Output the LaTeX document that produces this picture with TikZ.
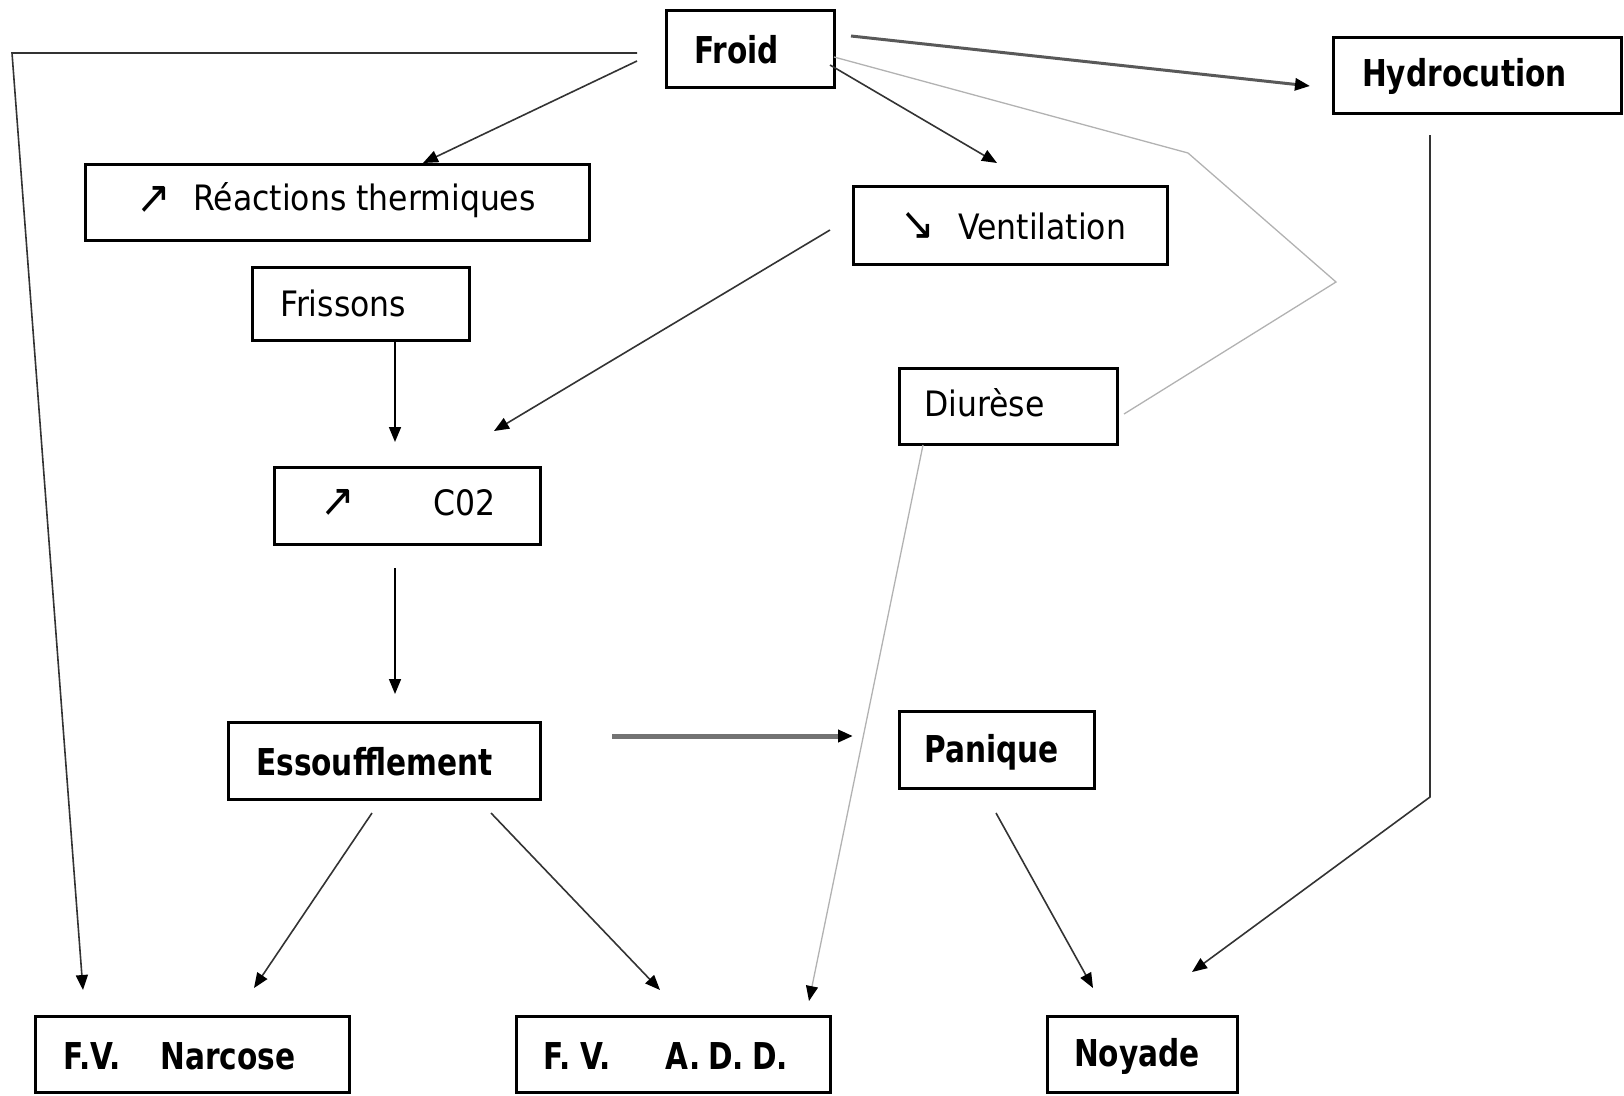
\documentclass[tikz,border=0pt]{standalone}
\usepackage{fontspec}
\setmainfont{DejaVu Sans}[FakeStretch=0.9]
\newfontfamily\boldf{DejaVu Sans}[FakeStretch=0.8]
\usetikzlibrary{arrows.meta,calc}
\tikzset{
  box/.style={draw, line width=3pt, inner sep=0pt},
  reg/.style={inner sep=0pt, anchor=west, font=\fontsize{35}{40}\selectfont},
  icon/.style={inner sep=0pt, anchor=west, font=\fontsize{46}{48}\selectfont},
  bld/.style={inner sep=0pt, anchor=west, font=\boldf\bfseries\fontsize{37}{42}\selectfont},
  tip/.style={-{Triangle[length=15pt,width=12pt,color=black]}},
  arr/.style={tip, draw=black!80, line width=1.6pt},
  arrthick/.style={tip, draw=black!65, line width=3pt},
  arrgray/.style={tip, draw=black!55, line width=5pt},
  light/.style={draw=black!30, line width=1.3pt},
}
\begin{document}
\begin{tikzpicture}[x=1pt,y=-1pt]
\useasboundingbox (0,0) rectangle (1624,1095);
% boxes
\node[box, minimum width=168, minimum height=77] (froid) at (750,48.5) {};
\node[box, minimum width=288, minimum height=76] (hydro) at (1477,75) {};
\node[box, minimum width=504, minimum height=76] (reac) at (337,202) {};
\node[box, minimum width=314, minimum height=78] (vent) at (1010,225) {};
\node[box, minimum width=217, minimum height=73] (friss) at (360.5,303.5) {};
\node[box, minimum width=218, minimum height=76] (diur) at (1008,406) {};
\node[box, minimum width=266, minimum height=77] (co2) at (407,505.5) {};
\node[box, minimum width=312, minimum height=77] (essou) at (384,760.5) {};
\node[box, minimum width=195, minimum height=77] (pani) at (996.5,749.5) {};
\node[box, minimum width=314, minimum height=76] (fvn) at (192,1054) {};
\node[box, minimum width=314, minimum height=76] (fva) at (673,1054) {};
\node[box, minimum width=190, minimum height=76] (noy) at (1142,1054) {};
% labels
\node[bld] (froidT) at (694,50) {Froid};
\node[bld] (hydroT) at (1362,76) {Hydrocution};
\node[icon] (reacI) at (136,200) {↗};
\node[reg] (reacT) at (193,200) {Réactions thermiques};
\node[icon] (ventI) at (900,226) {↘};
\node[reg] (ventT) at (958,226) {Ventilation};
\node[reg] (frissT) at (280,303) {Frissons};
\node[reg] (diurT) at (924,403) {Diurèse};
\node[icon] (co2I) at (320,503) {↗};
\node[reg] (co2T) at (433,503) {C02};
\node[bld] (essouT) at (256,762) {Essoufflement};
\node[bld] (paniT) at (924,752) {Panique};
\node[bld] (fvnT) at (63,1056) {F.V.\hspace{40pt}Narcose};
\node[bld] (fvaT) at (543,1056) {F.\hspace{10pt}V.\hspace{55pt}A.\hspace{8pt}D.\hspace{8pt}D.};
\node[bld] (noyT) at (1074,1056) {Noyade};
% connector end points
\coordinate (f1) at (637,53);
\coordinate (f1c) at (12,53);
\coordinate (n1) at (83,990);
\coordinate (f2) at (637,61);
\coordinate (r2) at (423,163);
\coordinate (f3) at (851,36);
\coordinate (h3) at (1310,86);
\coordinate (f4) at (830,65);
\coordinate (v4) at (997,163);
\coordinate (f5) at (834,57);
\coordinate (f5a) at (1188,153);
\coordinate (f5b) at (1336,282);
\coordinate (d5) at (1124,414);
\coordinate (v6) at (830,230);
\coordinate (c6) at (494,431);
\coordinate (fr7) at (395,340);
\coordinate (c7) at (395,442);
\coordinate (c8) at (395,568);
\coordinate (e8) at (395,694);
\coordinate (e9) at (612,736);
\coordinate (p9) at (853,736);
\coordinate (d10) at (923,445);
\coordinate (a10) at (809,1001);
\coordinate (e11) at (372,813);
\coordinate (n11) at (254,988);
\coordinate (e12) at (491,813);
\coordinate (a12) at (660,990);
\coordinate (p13) at (996,813);
\coordinate (y13) at (1093,988);
\coordinate (h14) at (1430,135);
\coordinate (h14c) at (1430,797);
\coordinate (y14) at (1192,972);
% connectors
\draw[arr] (f1) -- (f1c) -- (n1);
\draw[arr] (f2) -- (r2);
\draw[arrthick] (f3) -- (h3);
\draw[arr] (f4) -- (v4);
\draw[light] (f5) -- (f5a) -- (f5b) -- (d5);
\draw[arr] (v6) -- (c6);
\draw[arr, draw=black] (fr7) -- (c7);
\draw[arr, draw=black] (c8) -- (e8);
\draw[arrgray] (e9) -- (p9);
\draw[light, tip] (d10) -- (a10);
\draw[arr] (e11) -- (n11);
\draw[arr] (e12) -- (a12);
\draw[arr] (p13) -- (y13);
\draw[arr] (h14) -- (h14c) -- (y14);
\end{tikzpicture}
\end{document}
